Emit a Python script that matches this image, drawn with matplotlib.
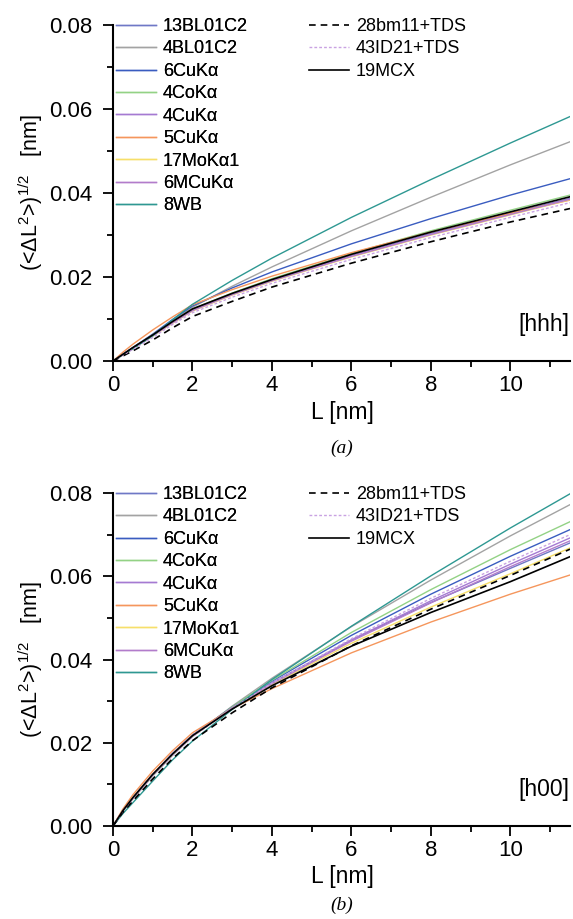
# -*- coding: utf-8 -*-
import matplotlib
matplotlib.use('Agg')
import matplotlib.pyplot as plt

plt.rcParams['font.family'] = ['Liberation Sans', 'DejaVu Sans']
plt.rcParams['mathtext.fontset'] = 'custom'
plt.rcParams['mathtext.rm'] = 'Liberation Sans'
plt.rcParams['mathtext.it'] = 'Liberation Sans'

# Fourier length L [nm]
L = [0, 0.25, 0.5, 1, 1.5, 2, 3, 4, 6, 8, 10, 11.5]

names = ['13BL01C2', '4BL01C2', '6CuKα', '4CoKα', '4CuKα', '5CuKα',
         '17MoKα1', '6MCuKα', '8WB', '28bm11+TDS', '43ID21+TDS', '19MCX']

# panel (a) [hhh]
hhh_13BL01C2 = [0, 0.0016, 0.0031, 0.0061, 0.0093, 0.0122, 0.0160, 0.0193, 0.0251, 0.0304, 0.0352, 0.0387]
hhh_4BL01C2 = [0, 0.0015, 0.0030, 0.0061, 0.0096, 0.0128, 0.0178, 0.0224, 0.0310, 0.0390, 0.0467, 0.0522]
hhh_6CuKa = [0, 0.0016, 0.0032, 0.0064, 0.0099, 0.0131, 0.0174, 0.0212, 0.0279, 0.0339, 0.0395, 0.0434]
hhh_4CoKa = [0, 0.0016, 0.0031, 0.0062, 0.0094, 0.0124, 0.0162, 0.0196, 0.0256, 0.0310, 0.0359, 0.0395]
hhh_4CuKa = [0, 0.0016, 0.0031, 0.0061, 0.0092, 0.0121, 0.0159, 0.0192, 0.0250, 0.0302, 0.0350, 0.0386]
hhh_5CuKa = [0, 0.0021, 0.0040, 0.0074, 0.0105, 0.0134, 0.0170, 0.0202, 0.0258, 0.0307, 0.0352, 0.0383]
hhh_17MoKa1 = [0, 0.0015, 0.0030, 0.0059, 0.0090, 0.0119, 0.0157, 0.0190, 0.0248, 0.0300, 0.0348, 0.0384]
hhh_6MCuKa = [0, 0.0015, 0.0030, 0.0060, 0.0091, 0.0120, 0.0158, 0.0191, 0.0249, 0.0301, 0.0349, 0.0385]
hhh_8WB = [0, 0.0015, 0.0029, 0.0060, 0.0098, 0.0135, 0.0192, 0.0245, 0.0342, 0.0432, 0.0519, 0.0582]
hhh_28bm11 = [0, 0.0012, 0.0024, 0.0050, 0.0079, 0.0106, 0.0142, 0.0176, 0.0233, 0.0284, 0.0331, 0.0363]
hhh_43ID21 = [0, 0.0014, 0.0028, 0.0056, 0.0087, 0.0115, 0.0152, 0.0185, 0.0242, 0.0294, 0.0342, 0.0377]
hhh_19MCX = [0, 0.0016, 0.0032, 0.0062, 0.0094, 0.0124, 0.0161, 0.0194, 0.0254, 0.0307, 0.0355, 0.0391]

# panel (b) [h00]
h00_13BL01C2 = [0, 0.0037, 0.0068, 0.0124, 0.0174, 0.0218, 0.0284, 0.0344, 0.0447, 0.0537, 0.0619, 0.0680]
h00_4BL01C2 = [0, 0.0036, 0.0065, 0.0120, 0.0170, 0.0215, 0.0288, 0.0355, 0.0479, 0.0591, 0.0697, 0.0772]
h00_6CuKa = [0, 0.0037, 0.0068, 0.0124, 0.0174, 0.0218, 0.0286, 0.0348, 0.0458, 0.0557, 0.0648, 0.0712]
h00_4CoKa = [0, 0.0037, 0.0067, 0.0122, 0.0172, 0.0216, 0.0286, 0.0350, 0.0465, 0.0568, 0.0664, 0.0731]
h00_4CuKa = [0, 0.0037, 0.0068, 0.0124, 0.0174, 0.0218, 0.0284, 0.0343, 0.0447, 0.0541, 0.0629, 0.0692]
h00_5CuKa = [0, 0.0041, 0.0075, 0.0132, 0.0181, 0.0224, 0.0282, 0.0330, 0.0416, 0.0490, 0.0557, 0.0603]
h00_17MoKa1 = [0, 0.0037, 0.0068, 0.0124, 0.0173, 0.0217, 0.0282, 0.0340, 0.0439, 0.0526, 0.0606, 0.0668]
h00_6MCuKa = [0, 0.0037, 0.0067, 0.0123, 0.0173, 0.0217, 0.0283, 0.0342, 0.0444, 0.0536, 0.0623, 0.0685]
h00_8WB = [0, 0.0030, 0.0056, 0.0108, 0.0159, 0.0204, 0.0280, 0.0352, 0.0480, 0.0601, 0.0716, 0.0798]
h00_28bm11 = [0, 0.0033, 0.0060, 0.0113, 0.0162, 0.0205, 0.0272, 0.0332, 0.0433, 0.0521, 0.0602, 0.0665]
h00_43ID21 = [0, 0.0036, 0.0066, 0.0121, 0.0170, 0.0214, 0.0282, 0.0343, 0.0450, 0.0547, 0.0636, 0.0700]
h00_19MCX = [0, 0.0037, 0.0068, 0.0124, 0.0173, 0.0217, 0.0281, 0.0337, 0.0432, 0.0513, 0.0587, 0.0647]

hhh = [hhh_13BL01C2, hhh_4BL01C2, hhh_6CuKa, hhh_4CoKa, hhh_4CuKa, hhh_5CuKa,
       hhh_17MoKa1, hhh_6MCuKa, hhh_8WB, hhh_28bm11, hhh_43ID21, hhh_19MCX]
h00 = [h00_13BL01C2, h00_4BL01C2, h00_6CuKa, h00_4CoKa, h00_4CuKa, h00_5CuKa,
       h00_17MoKa1, h00_6MCuKa, h00_8WB, h00_28bm11, h00_43ID21, h00_19MCX]

colors = ['#6f78c6', '#a3a3a3', '#3a5cc0', '#93d285', '#a57ad2', '#f5965c',
          '#f7df6a', '#b27ccb', '#2e9892', 'black', '#c9a2e2', 'black']
styles = ['-'] * 9 + [(0, (4, 3)), (0, (2, 1.5)), '-']
widths = [1.0] * 9 + [1.2, 1.0, 1.2]

fig = plt.figure(figsize=(5.73, 9.19), dpi=100)
W, H = 573.0, 919.0


def panel(top, bottom, data, tag, caption, lbl_y, cap_y):
    ax = fig.add_axes([113 / W, 1 - bottom / H, 457 / W, (bottom - top) / H])
    lines = []
    for y, c, s, w in zip(data, colors, styles, widths):
        ln, = ax.plot(L, y, color=c, linestyle=s, linewidth=w)
        lines.append(ln)
    ax.set_xlim(0, 11.5)
    ax.set_ylim(0, 0.08)
    ax.set_xticks([0, 2, 4, 6, 8, 10])
    ax.set_xticks([1, 3, 5, 7, 9, 11], minor=True)
    ax.set_yticks([0, 0.02, 0.04, 0.06, 0.08])
    ax.set_yticks([0.01, 0.03, 0.05, 0.07], minor=True)
    ax.set_yticklabels(['0.00', '0.02', '0.04', '0.06', '0.08'])
    ax.spines['top'].set_visible(False)
    ax.spines['right'].set_visible(False)
    ax.spines['left'].set_linewidth(1.5)
    ax.spines['bottom'].set_linewidth(1.5)
    ax.tick_params(which='major', direction='out', length=7, width=1.3, labelsize=16)
    ax.tick_params(axis='y', which='major', pad=8)
    ax.tick_params(axis='x', which='major', pad=3)
    ax.tick_params(which='minor', direction='out', length=4, width=1.3)
    ax.set_ylabel('(<ΔL$^2$>)$^{1/2}$   [nm]', fontsize=15.5, labelpad=3)
    fig.text(342 / W, 1 - lbl_y / H, 'L [nm]', fontsize=16.5, ha='center', va='center')
    fig.text(342 / W, 1 - cap_y / H, caption, fontsize=14, ha='center', va='center',
             family='Liberation Serif', style='italic')
    ax.text(0.998, 0.11, tag, transform=ax.transAxes, fontsize=16.5, ha='right', va='center')

    leg1 = fig.legend(lines[:9], names[:9], loc='upper left',
                      bbox_to_anchor=(116 / W, 1 - (top - 7) / H), frameon=False,
                      fontsize=13, handlelength=2.2, handletextpad=0.4,
                      labelspacing=0.3, borderpad=0, borderaxespad=0)
    fig.legend(lines[9:], names[9:], loc='upper left',
               bbox_to_anchor=(309 / W, 1 - (top - 7) / H), frameon=False,
               fontsize=13, handlelength=2.2, handletextpad=0.4,
               labelspacing=0.3, borderpad=0, borderaxespad=0)
    fig.add_artist(leg1)
    return ax


panel(25, 361, hhh, '[hhh]', '(a)', 412, 448)
panel(493, 826, h00, '[h00]', '(b)', 876, 905)

fig.savefig('out.png', dpi=100)
